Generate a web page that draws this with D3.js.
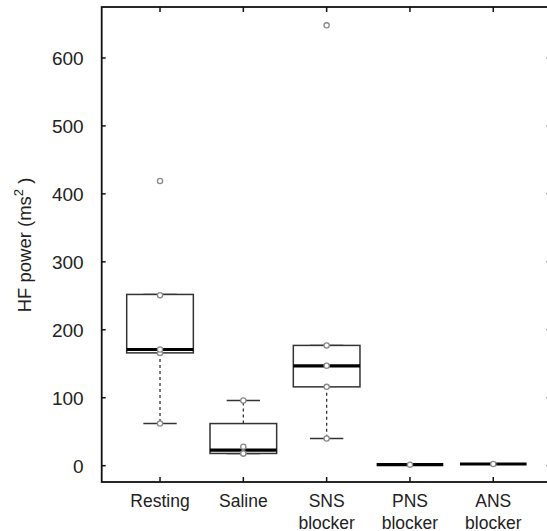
<!DOCTYPE html>
<html>
<head>
<meta charset="utf-8">
<script src="https://cdn.jsdelivr.net/npm/d3@7"></script>
<style>
  body { margin: 0; background: #fff; }
  svg { display: block; font-family: "Liberation Sans", Arial, sans-serif; }
</style>
</head>
<body>
<svg id="chart" width="547" height="531"></svg>
<script>
// Categories (two-line labels)
const categories = [["Resting"], ["Saline"], ["SNS", "blocker"], ["PNS", "blocker"], ["ANS", "blocker"]]

// Box summary
const whiskerLo = [62, 18, 40, 1.5, 2.5]
const lowerHinge = [166, 18, 116, 1.5, 2.5]
const medians = [171, 23, 147, 1.5, 2.5]
const upperHinge = [252, 62, 177, 1.5, 2.5]
const whiskerHi = [252, 96, 177, 1.5, 2.5]

// Individual observations (grey circles)
const points = [
  [62, 166, 171, 251, 419],
  [18, 18, 28, 96],
  [40, 116, 147, 177, 648],
  [1.5],
  [2.5]
]

const yTicks = [0, 100, 200, 300, 400, 500, 600]

const svg = d3.select("#chart")
const plotL = 101.7, plotR = 551.6, plotT = 7, plotB = 482

const x = d3.scaleLinear().domain([0.3, 5.7]).range([plotL, plotR])
const y = d3.scaleLinear().domain([-24, 675]).range([plotB, plotT])

const boxHalf = 0.4, capHalf = 0.2
const data = categories.map((c, i) => ({
  i: i + 1, lo: whiskerLo[i], q1: lowerHinge[i], med: medians[i],
  q3: upperHinge[i], hi: whiskerHi[i], pts: points[i]
}))

const g = svg.append("g")

// whiskers (dashed)
g.selectAll("line.wlo").data(data.filter(d => d.lo < d.q1)).enter().append("line")
  .attr("x1", d => x(d.i)).attr("x2", d => x(d.i))
  .attr("y1", d => y(d.q1)).attr("y2", d => y(d.lo))
  .attr("stroke", "#333").attr("stroke-width", 1.3).attr("stroke-dasharray", "3,3")
g.selectAll("line.whi").data(data.filter(d => d.hi > d.q3)).enter().append("line")
  .attr("x1", d => x(d.i)).attr("x2", d => x(d.i))
  .attr("y1", d => y(d.q3)).attr("y2", d => y(d.hi))
  .attr("stroke", "#333").attr("stroke-width", 1.3).attr("stroke-dasharray", "3,3")

// caps
data.forEach(d => {
  [d.lo, d.hi].forEach(v => {
    g.append("line")
      .attr("x1", x(d.i - capHalf)).attr("x2", x(d.i + capHalf))
      .attr("y1", y(v)).attr("y2", y(v))
      .attr("stroke", "#333").attr("stroke-width", 1.5)
  })
})

// boxes
g.selectAll("rect.box").data(data).enter().append("rect")
  .attr("x", d => x(d.i - boxHalf))
  .attr("width", d => x(d.i + boxHalf) - x(d.i - boxHalf))
  .attr("y", d => y(d.q3))
  .attr("height", d => Math.max(0, y(d.q1) - y(d.q3)))
  .attr("fill", "white").attr("stroke", "#333").attr("stroke-width", 1.5)

// medians
g.selectAll("line.med").data(data).enter().append("line")
  .attr("x1", d => x(d.i - boxHalf)).attr("x2", d => x(d.i + boxHalf))
  .attr("y1", d => y(d.med)).attr("y2", d => y(d.med))
  .attr("stroke", "black").attr("stroke-width", 3.2)

// points
data.forEach(d => {
  g.selectAll(null).data(d.pts).enter().append("circle")
    .attr("cx", x(d.i)).attr("cy", v => y(v)).attr("r", 2.6)
    .attr("fill", "white").attr("stroke", "#8a8a8a").attr("stroke-width", 1.3)
})

// frame
svg.append("rect")
  .attr("x", plotL).attr("y", plotT)
  .attr("width", plotR - plotL).attr("height", plotB - plotT)
  .attr("fill", "none").attr("stroke", "#111").attr("stroke-width", 1.8)

// y ticks (inward, both sides)
const axis = svg.append("g")
yTicks.forEach(t => {
  axis.append("line").attr("x1", plotL).attr("x2", plotL + 4)
    .attr("y1", y(t)).attr("y2", y(t)).attr("stroke", "#111").attr("stroke-width", 1.5)
  axis.append("line").attr("x1", plotR).attr("x2", plotR - 5)
    .attr("y1", y(t)).attr("y2", y(t)).attr("stroke", "#111").attr("stroke-width", 1.5)
  axis.append("text")
    .attr("x", plotL - 18).attr("y", y(t)).attr("dy", "0.36em")
    .attr("text-anchor", "end").attr("font-size", 19).attr("fill", "#222")
    .text(t)
})

// x ticks (inward, top and bottom)
data.forEach(d => {
  axis.append("line").attr("x1", x(d.i)).attr("x2", x(d.i))
    .attr("y1", plotB).attr("y2", plotB - 5).attr("stroke", "#111").attr("stroke-width", 1.5)
  axis.append("line").attr("x1", x(d.i)).attr("x2", x(d.i))
    .attr("y1", plotT).attr("y2", plotT + 5).attr("stroke", "#111").attr("stroke-width", 1.5)
})

// category labels
categories.forEach((lines, i) => {
  const t = axis.append("text").attr("text-anchor", "middle")
    .attr("font-size", 17.5).attr("fill", "#222")
  lines.forEach((s, k) => {
    t.append("tspan").attr("x", x(i + 1)).attr("y", 507 + k * 21.5).text(s)
  })
})

// y label
const yl = svg.append("text")
  .attr("transform", "translate(31,245) rotate(-90)")
  .attr("text-anchor", "middle").attr("font-size", 18.5).attr("fill", "#222")
yl.append("tspan").text("HF power (ms")
yl.append("tspan").attr("font-size", 13).attr("dy", -8).text("2")
yl.append("tspan").attr("dy", 8).text(" )")
</script>
</body>
</html>
